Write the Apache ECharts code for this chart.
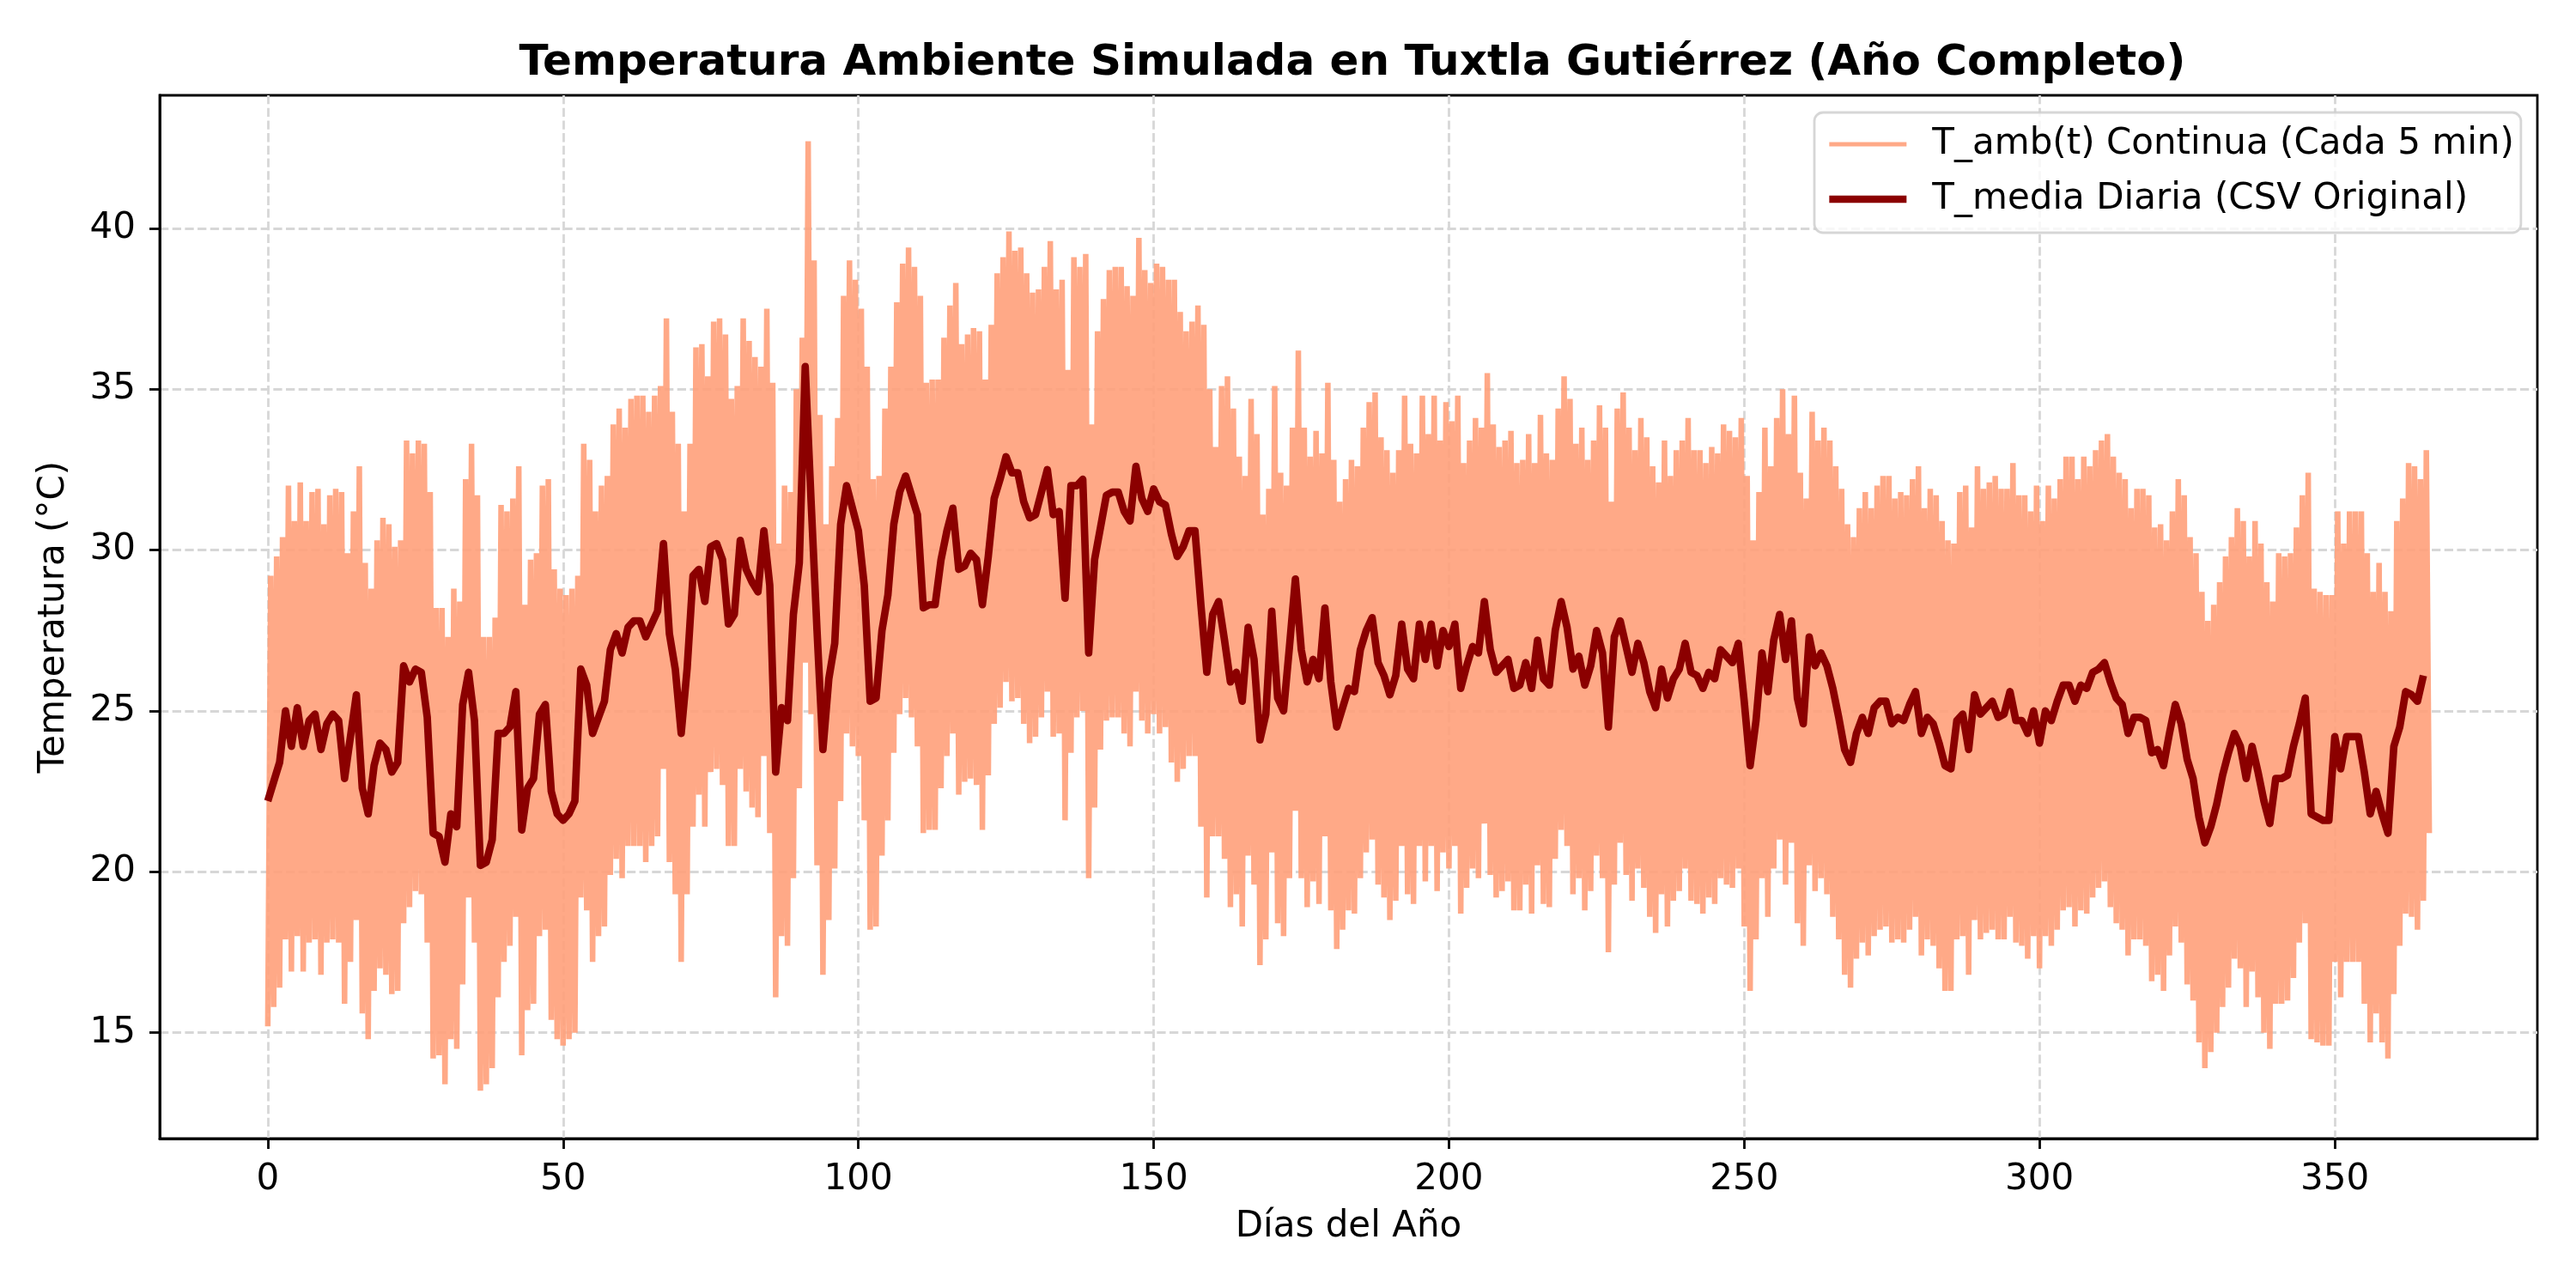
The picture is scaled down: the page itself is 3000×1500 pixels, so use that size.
<!DOCTYPE html>
<html>
<head>
<meta charset="utf-8">
<title>Temperatura Ambiente Simulada en Tuxtla Gutiérrez</title>
<script src="https://cdn.jsdelivr.net/npm/echarts@6/dist/echarts.min.js"></script>
<style>
  html, body { margin: 0; padding: 0; background: #fff; }
  #chart { width: 3000px; height: 1500px; }
</style>
</head>
<body>
<div id="chart"></div>
<script>
// Temperatura media diaria (día 0 .. 365)
var tMedia = [
  22.2, 22.8, 23.4, 25.0, 23.9, 25.1, 23.9, 24.7, 24.9, 23.8,
  24.6, 24.9, 24.7, 22.9, 24.2, 25.5, 22.6, 21.8, 23.3, 24.0,
  23.8, 23.1, 23.4, 26.4, 25.9, 26.3, 26.2, 24.8, 21.2, 21.1,
  20.3, 21.8, 21.4, 25.2, 26.2, 24.7, 20.2, 20.3, 21.0, 24.3,
  24.3, 24.5, 25.6, 21.3, 22.6, 22.9, 24.9, 25.2, 22.5, 21.8,
  21.6, 21.8, 22.2, 26.3, 25.8, 24.3, 24.8, 25.3, 26.9, 27.4,
  26.8, 27.6, 27.8, 27.8, 27.3, 27.7, 28.1, 30.2, 27.4, 26.3,
  24.3, 26.3, 29.2, 29.4, 28.4, 30.1, 30.2, 29.7, 27.7, 28.0,
  30.3, 29.4, 29.0, 28.7, 30.6, 28.9, 23.1, 25.1, 24.7, 28.0,
  29.6, 35.7, 31.5, 27.5, 23.8, 26.0, 27.1, 30.8, 32.0, 31.3,
  30.6, 28.9, 25.3, 25.4, 27.5, 28.6, 30.8, 31.8, 32.3, 31.7,
  31.1, 28.2, 28.3, 28.3, 29.7, 30.6, 31.3, 29.4, 29.5, 29.9,
  29.7, 28.3, 29.8, 31.6, 32.2, 32.9, 32.4, 32.4, 31.5, 31.0,
  31.1, 31.8, 32.5, 31.1, 31.2, 28.5, 32.0, 32.0, 32.2, 26.8,
  29.7, 30.7, 31.7, 31.8, 31.8, 31.2, 30.9, 32.6, 31.6, 31.2,
  31.9, 31.5, 31.4, 30.5, 29.8, 30.1, 30.6, 30.6, 28.3, 26.2,
  28.0, 28.4, 27.2, 25.9, 26.2, 25.3, 27.6, 26.6, 24.1, 24.9,
  28.1, 25.4, 25.0, 27.0, 29.1, 26.9, 25.9, 26.6, 26.0, 28.2,
  25.9, 24.5, 25.1, 25.7, 25.6, 26.9, 27.5, 27.9, 26.5, 26.1,
  25.5, 26.1, 27.7, 26.3, 26.0, 27.7, 26.6, 27.7, 26.4, 27.5,
  27.0, 27.7, 25.7, 26.4, 27.0, 26.8, 28.4, 26.9, 26.2, 26.4,
  26.6, 25.7, 25.8, 26.5, 25.7, 27.2, 26.0, 25.8, 27.5, 28.4,
  27.6, 26.3, 26.7, 25.8, 26.4, 27.5, 26.8, 24.5, 27.3, 27.8,
  27.0, 26.2, 27.1, 26.5, 25.6, 25.1, 26.3, 25.4, 26.0, 26.3,
  27.1, 26.2, 26.1, 25.7, 26.2, 26.0, 26.9, 26.7, 26.5, 27.1,
  25.3, 23.3, 24.7, 26.8, 25.6, 27.2, 28.0, 26.6, 27.8, 25.4,
  24.6, 27.3, 26.4, 26.8, 26.4, 25.7, 24.8, 23.8, 23.4, 24.3,
  24.8, 24.3, 25.1, 25.3, 25.3, 24.6, 24.8, 24.7, 25.2, 25.6,
  24.3, 24.8, 24.6, 24.0, 23.3, 23.2, 24.7, 24.9, 23.8, 25.5,
  24.9, 25.1, 25.3, 24.8, 24.9, 25.6, 24.7, 24.7, 24.3, 25.0,
  24.0, 25.0, 24.7, 25.3, 25.8, 25.8, 25.3, 25.8, 25.7, 26.2,
  26.3, 26.5, 25.9, 25.4, 25.2, 24.3, 24.8, 24.8, 24.7, 23.7,
  23.8, 23.3, 24.3, 25.2, 24.6, 23.5, 22.9, 21.7, 20.9, 21.4,
  22.1, 23.0, 23.7, 24.3, 23.9, 22.9, 23.9, 23.1, 22.2, 21.5,
  22.9, 22.9, 23.0, 23.9, 24.6, 25.4, 21.8, 21.7, 21.6, 21.6,
  24.2, 23.2, 24.2, 24.2, 24.2, 23.1, 21.8, 22.5, 21.8, 21.2,
  23.9, 24.5, 25.6, 25.5, 25.3, 26.1
]

// máximo diario de la serie continua (hacia media tarde)
var tMax = [
  29.2, 29.8, 30.4, 32.0, 30.9, 32.1, 30.9, 31.8, 31.9, 30.8,
  31.7, 31.9, 31.8, 29.9, 31.2, 32.6, 29.6, 28.8, 30.3, 31.0,
  30.8, 30.1, 30.3, 33.4, 33.0, 33.4, 33.3, 31.8, 28.2, 28.2,
  27.3, 28.8, 28.4, 32.2, 33.3, 31.7, 27.3, 27.3, 27.9, 31.4,
  31.2, 31.6, 32.6, 28.3, 29.7, 29.9, 32.0, 32.2, 29.4, 28.8,
  28.6, 28.8, 29.2, 33.3, 32.8, 31.2, 32.0, 32.3, 33.9, 34.4,
  33.8, 34.7, 34.8, 34.8, 34.3, 34.8, 35.1, 37.2, 34.3, 33.3,
  31.2, 33.3, 36.3, 36.4, 35.4, 37.1, 37.2, 36.7, 34.7, 35.1,
  37.2, 36.5, 36.0, 35.7, 37.5, 35.2, 30.2, 32.0, 31.8, 35.0,
  36.6, 42.7, 39.0, 34.2, 30.8, 32.6, 34.1, 37.9, 39.0, 38.4,
  37.5, 35.7, 32.2, 32.3, 34.4, 35.7, 37.7, 38.9, 39.4, 38.8,
  37.9, 35.2, 35.3, 35.3, 36.6, 37.6, 38.3, 36.4, 36.7, 36.9,
  36.8, 35.3, 37.0, 38.6, 39.1, 39.9, 39.3, 39.4, 38.6, 38.0,
  38.1, 38.8, 39.6, 38.1, 38.4, 35.6, 39.1, 38.8, 39.2, 33.9,
  36.8, 37.8, 38.7, 38.8, 38.8, 38.2, 37.9, 39.7, 38.7, 38.3,
  38.9, 38.8, 38.4, 38.4, 37.4, 36.8, 37.1, 37.6, 37.0, 35.0,
  33.2, 35.1, 35.4, 34.4, 32.9, 32.3, 34.7, 33.6, 31.1, 31.9,
  35.1, 32.4, 32.0, 33.8, 36.2, 33.8, 32.9, 33.7, 33.0, 35.2,
  32.8, 31.5, 32.2, 32.8, 32.6, 33.8, 34.6, 34.9, 33.5, 33.1,
  32.4, 33.1, 34.8, 33.3, 33.0, 34.8, 33.6, 34.8, 33.4, 34.6,
  34.0, 34.8, 32.7, 33.4, 34.1, 33.8, 35.5, 33.9, 33.2, 33.4,
  33.7, 32.7, 32.8, 33.6, 32.7, 34.2, 33.0, 32.8, 34.4, 35.4,
  34.7, 33.3, 33.8, 32.8, 33.4, 34.5, 33.8, 31.5, 34.4, 34.9,
  33.8, 33.1, 34.1, 33.5, 32.6, 32.1, 33.4, 32.3, 33.1, 33.4,
  34.1, 33.1, 33.1, 32.7, 33.2, 33.0, 33.9, 33.7, 33.5, 34.1,
  32.3, 30.3, 31.8, 33.8, 32.6, 34.1, 35.0, 33.6, 34.8, 32.4,
  31.6, 34.3, 33.4, 33.8, 33.4, 32.6, 31.9, 30.8, 30.4, 31.3,
  31.8, 31.3, 32.0, 32.3, 32.3, 31.6, 31.8, 31.7, 32.2, 32.6,
  31.3, 31.9, 31.7, 30.9, 30.3, 30.2, 31.8, 32.0, 30.7, 32.6,
  31.9, 32.1, 32.3, 31.9, 31.9, 32.7, 31.7, 31.7, 31.2, 32.0,
  30.9, 32.0, 31.6, 32.2, 32.9, 32.9, 32.2, 32.9, 32.6, 33.1,
  33.4, 33.6, 32.9, 32.4, 32.2, 31.3, 31.9, 31.9, 31.7, 30.7,
  30.8, 30.3, 31.2, 32.2, 31.7, 30.4, 29.9, 28.7, 27.8, 28.3,
  29.0, 29.8, 30.4, 31.3, 30.9, 29.8, 30.9, 30.2, 29.0, 28.4,
  29.9, 29.8, 29.9, 30.7, 31.7, 32.4, 28.8, 28.7, 28.6, 28.6,
  31.2, 30.2, 31.2, 31.2, 31.2, 29.9, 28.7, 29.6, 28.7, 28.1,
  30.9, 31.6, 32.7, 32.6, 32.2, 33.1
]

// mínimo diario de la serie continua (madrugada)
var tMin = [
  15.2, 15.8, 16.4, 17.9, 16.9, 18.0, 16.9, 17.8, 17.9, 16.8,
  17.8, 17.9, 17.8, 15.9, 17.2, 18.5, 15.6, 14.8, 16.3, 17.0,
  16.8, 16.2, 16.3, 18.4, 18.9, 19.4, 19.3, 17.8, 14.2, 14.3,
  13.4, 14.8, 14.5, 16.5, 19.2, 17.8, 13.2, 13.4, 13.9, 16.1,
  17.2, 17.7, 18.6, 14.3, 15.7, 15.9, 18.0, 18.2, 15.4, 14.8,
  14.6, 14.8, 15.0, 19.2, 18.8, 17.2, 18.0, 18.3, 19.9, 20.4,
  19.8, 20.8, 20.8, 20.8, 20.3, 20.8, 21.1, 23.2, 20.3, 19.3,
  17.2, 19.3, 21.4, 22.4, 21.4, 23.1, 23.2, 22.7, 20.8, 20.8,
  23.2, 22.5, 22.0, 21.7, 23.6, 21.2, 16.1, 18.0, 17.7, 19.8,
  22.6, 26.5, 24.9, 20.2, 16.8, 18.5, 20.1, 22.2, 24.3, 23.9,
  23.6, 21.6, 18.2, 18.3, 20.5, 21.6, 23.7, 24.9, 25.4, 24.8,
  23.9, 21.2, 21.3, 21.3, 22.6, 23.6, 24.3, 22.4, 22.8, 22.9,
  22.7, 21.3, 23.0, 24.6, 25.1, 25.9, 25.3, 25.4, 24.6, 24.0,
  24.2, 24.8, 25.6, 24.2, 24.3, 21.6, 23.7, 24.8, 25.0, 19.8,
  22.0, 23.8, 24.7, 24.8, 24.8, 24.3, 23.9, 25.6, 24.7, 24.3,
  24.9, 24.3, 24.5, 23.4, 22.8, 23.2, 23.6, 23.6, 21.4, 19.2,
  21.1, 21.1, 20.4, 18.9, 19.3, 18.3, 20.5, 19.6, 17.1, 17.9,
  20.6, 18.4, 18.0, 19.8, 21.9, 19.8, 18.9, 19.7, 19.0, 21.1,
  18.8, 17.6, 18.2, 18.8, 18.7, 19.8, 20.6, 21.0, 19.6, 19.2,
  18.5, 19.1, 20.8, 19.3, 19.0, 20.8, 19.7, 20.8, 19.4, 20.6,
  20.1, 20.8, 18.7, 19.5, 20.1, 19.8, 21.5, 19.9, 19.2, 19.4,
  19.7, 18.8, 18.8, 19.6, 18.7, 20.2, 19.0, 18.9, 20.4, 21.3,
  20.8, 19.3, 19.8, 18.8, 19.4, 20.5, 19.8, 17.5, 19.6, 20.9,
  19.9, 19.1, 20.1, 19.5, 18.6, 18.1, 19.3, 18.3, 19.1, 19.4,
  20.1, 19.1, 19.0, 18.7, 19.2, 19.0, 19.8, 19.6, 19.5, 20.1,
  18.3, 16.3, 17.9, 19.8, 18.6, 20.1, 21.0, 19.6, 20.9, 18.4,
  17.7, 20.2, 19.4, 19.8, 19.3, 18.6, 17.9, 16.8, 16.4, 17.3,
  17.8, 17.4, 18.0, 18.2, 18.3, 17.8, 17.9, 17.8, 18.2, 18.6,
  17.4, 17.9, 17.7, 17.0, 16.3, 16.3, 17.9, 18.0, 16.8, 18.5,
  17.9, 18.1, 18.2, 17.9, 17.9, 18.6, 17.8, 17.7, 17.3, 18.0,
  17.0, 18.0, 17.7, 18.2, 18.8, 18.9, 18.3, 18.8, 18.7, 19.2,
  19.5, 19.7, 18.9, 18.4, 18.2, 17.4, 17.9, 17.9, 17.7, 16.6,
  16.8, 16.3, 17.4, 18.3, 17.8, 16.5, 16.0, 14.7, 13.9, 14.4,
  15.0, 15.8, 16.4, 17.3, 17.0, 15.8, 16.9, 16.1, 15.0, 14.5,
  15.9, 15.9, 16.0, 16.7, 17.8, 18.4, 14.8, 14.7, 14.6, 14.6,
  17.2, 16.1, 17.2, 17.2, 17.2, 15.9, 14.7, 15.6, 14.7, 14.2,
  16.2, 17.7, 18.7, 18.6, 18.2, 19.1
]

// último valor de la serie continua (fin del día 365)
var tFinal = 21.2

var xTicks = [0, 50, 100, 150, 200, 250, 300, 350]
var yTicks = [15, 20, 25, 30, 35, 40]

var nombreCont = 'T_amb(t) Continua (Cada 5 min)'
var nombreMedia = 'T_media Diaria (CSV Original)'

// serie diaria: un punto por día
var serieMedia = tMedia.map(function (v, d) { return [d, v] })

// serie continua: mínimo al inicio del día, máximo a mitad del día
var serieCont = []
tMin.forEach(function (v, d) {
  serieCont.push([d, v])
  serieCont.push([d + 0.5, tMax[d]])
})
serieCont.push([tMin.length, tFinal])

var fuente = 'DejaVu Sans'
var gridLine = { color: '#d7d7d7', width: 2.8, type: [10.3, 4.4] }

var myChart = echarts.init(document.getElementById('chart'))
myChart.setOption({
  animation: false,
  backgroundColor: '#ffffff',
  textStyle: { fontFamily: fuente },
  title: {
    text: 'Temperatura Ambiente Simulada en Tuxtla Gutiérrez (Año Completo)',
    left: 1570,
    top: 44,
    textAlign: 'center',
    textStyle: { fontFamily: fuente, fontSize: 50, fontWeight: 'bold', color: '#000' }
  },
  legend: {
    orient: 'vertical',
    left: 2113,
    top: 131,
    padding: [12, 8, 14, 13],
    itemGap: 14,
    itemWidth: 90,
    itemHeight: 14,
    backgroundColor: 'rgba(255,255,255,0.8)',
    borderColor: 'rgba(204,204,204,0.8)',
    borderWidth: 2.8,
    borderRadius: 10,
    textStyle: { fontFamily: fuente, fontSize: 42, color: '#000', lineHeight: 50, padding: [0, 0, 0, 25] },
    data: [
      { name: nombreCont, lineStyle: { width: 5.2 }, itemStyle: { opacity: 0 } },
      { name: nombreMedia, lineStyle: { width: 8.7 }, itemStyle: { opacity: 0 } }
    ]
  },
  grid: {
    left: 186, right: 45, top: 111, bottom: 174,
    show: true, borderColor: '#000', borderWidth: 2.8, backgroundColor: 'transparent'
  },
  xAxis: {
    type: 'value',
    min: -18.3,
    max: 384.3,
    name: 'Días del Año',
    nameLocation: 'middle',
    nameGap: 82,
    nameTextStyle: { fontFamily: fuente, fontSize: 42, color: '#000' },
    axisLine: { show: true, onZero: false, lineStyle: { color: '#000', width: 2.8 } },
    axisTick: { show: true, customValues: xTicks, length: 12, lineStyle: { color: '#000', width: 2.8 } },
    axisLabel: { customValues: xTicks, fontFamily: fuente, fontSize: 42, color: '#000', margin: 27 },
    splitLine: { show: true, lineStyle: gridLine }
  },
  yAxis: {
    type: 'value',
    min: 11.71,
    max: 44.13,
    name: 'Temperatura (°C)',
    nameLocation: 'middle',
    nameGap: 102,
    nameTextStyle: { fontFamily: fuente, fontSize: 42, color: '#000' },
    axisLine: { show: true, onZero: false, lineStyle: { color: '#000', width: 2.8 } },
    axisTick: { show: true, customValues: yTicks, length: 12, lineStyle: { color: '#000', width: 2.8 } },
    axisLabel: { customValues: yTicks, fontFamily: fuente, fontSize: 42, color: '#000', margin: 28 },
    splitLine: { show: true, lineStyle: gridLine }
  },
  series: [
    {
      name: nombreCont,
      type: 'line',
      data: serieCont,
      symbol: 'none',
      silent: true,
      z: 2,
      itemStyle: { color: 'rgba(255,160,122,0.9)' },
      lineStyle: { color: 'rgba(255,160,122,0.9)', width: 6.5 }
    },
    {
      name: nombreMedia,
      type: 'line',
      data: serieMedia,
      symbol: 'none',
      z: 3,
      itemStyle: { color: '#8b0000' },
      lineStyle: { color: '#8b0000', width: 8.7, join: 'round' }
    }
  ]
})
</script>
</body>
</html>
